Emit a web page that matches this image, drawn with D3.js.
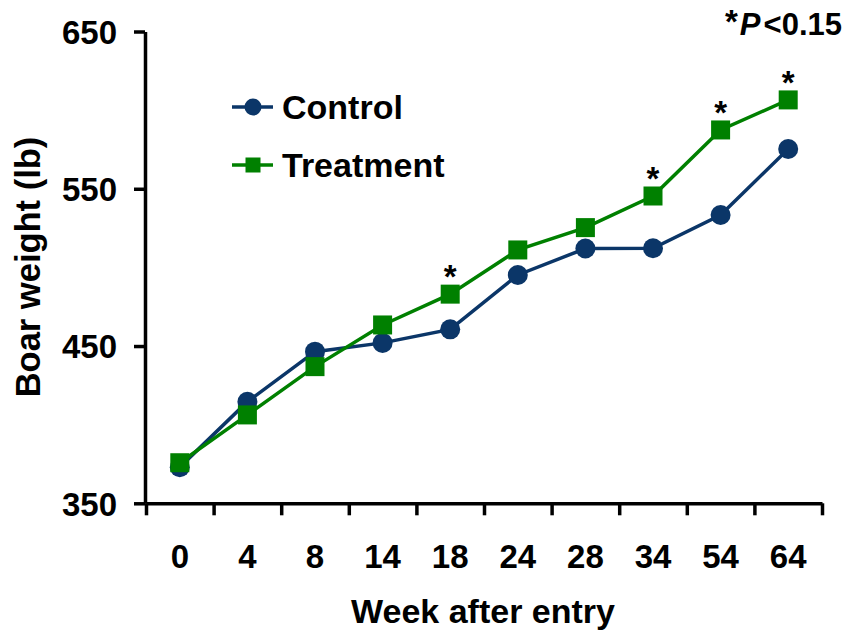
<!DOCTYPE html>
<html>
<head>
<meta charset="utf-8">
<script src="https://cdn.jsdelivr.net/npm/d3@7"></script>
<style>
  body { margin: 0; background: #fff; }
  text { font-family: "Liberation Sans", Arial, sans-serif; font-weight: bold; fill: #000; }
</style>
</head>
<body>
<svg id="chart" width="849" height="637"></svg>
<script>
// data
var weeks = ["0", "4", "8", "14", "18", "24", "28", "34", "54", "64"];
var control = [373, 414.6, 446.4, 452, 460.6, 495.2, 512, 512.2, 533.3, 575.3];
var treatment = [375.8, 406.2, 436.9, 463.4, 483, 511.1, 525.3, 545.4, 587.4, 606.5];
var starWeeks = ["18", "34", "54", "64"];
var yTicks = [350, 450, 550, 650];

var svg = d3.select("svg#chart");

// scales
var x = d3.scaleBand().domain(weeks).range([146, 822]).padding(0),
    xEdge = d3.scaleLinear().domain([0, weeks.length]).range([146, 822]),
    y = d3.scaleLinear().domain([350, 650]).range([503.3, 31.5]);

var navy = "#0b3668", green = "#008000";

// x axis line + tick marks at the band edges
svg.append("g")
    .attr("transform", "translate(0,503.3)")
    .call(d3.axisBottom(xEdge).ticks(weeks.length).tickSize(12).tickSizeOuter(0).tickFormat(""))
    .call(function(g) {
      g.select(".domain").attr("stroke-width", 3.5);
      g.selectAll(".tick line").attr("stroke-width", 3.5);
    });

// x tick labels (centred in the bands)
svg.append("g")
    .attr("transform", "translate(0,503.3)")
    .call(d3.axisBottom(x).tickSize(0).tickPadding(41))
    .call(function(g) {
      g.select(".domain").remove();
      g.selectAll("text").style("font-size", "33px").attr("font-family", null);
    });

// y axis
svg.append("g")
    .attr("transform", "translate(145,0)")
    .call(d3.axisLeft(y).tickValues(yTicks).tickSize(11).tickSizeOuter(0).tickPadding(17))
    .call(function(g) {
      g.select(".domain").attr("stroke-width", 3.5);
      g.selectAll(".tick line").attr("stroke-width", 3.5);
      g.selectAll("text").style("font-size", "33px").attr("font-family", null).attr("dy", "0.36em");
    });

// axis titles
svg.append("text")
    .attr("x", 483).attr("y", 623)
    .style("text-anchor", "middle").style("font-size", "34px")
    .text("Week after entry");

svg.append("text")
    .attr("transform", "translate(40,267) rotate(-90)")
    .style("text-anchor", "middle").style("font-size", "34.5px")
    .text("Boar weight (lb)");

// lines
var line = d3.line()
    .x(function(d, i) { return x(weeks[i]) + x.bandwidth() / 2; })
    .y(function(d) { return y(d); });

svg.append("path").datum(control)
    .attr("d", line).attr("fill", "none")
    .attr("stroke", navy).attr("stroke-width", 3.5);

svg.selectAll("circle.ctrl").data(control).enter().append("circle")
    .attr("class", "ctrl")
    .attr("cx", function(d, i) { return x(weeks[i]) + x.bandwidth() / 2; })
    .attr("cy", function(d) { return y(d); })
    .attr("r", 10)
    .attr("fill", navy);

svg.append("path").datum(treatment)
    .attr("d", line).attr("fill", "none")
    .attr("stroke", green).attr("stroke-width", 3.5);

svg.selectAll("rect.trt").data(treatment).enter().append("rect")
    .attr("class", "trt")
    .attr("x", function(d, i) { return x(weeks[i]) + x.bandwidth() / 2 - 9.5; })
    .attr("y", function(d) { return y(d) - 9.5; })
    .attr("width", 19).attr("height", 19)
    .attr("fill", green);

// significance asterisks
svg.selectAll("text.star").data(starWeeks).enter().append("text")
    .attr("class", "star")
    .attr("x", function(w) { return x(w) + x.bandwidth() / 2; })
    .attr("y", function(w) { return y(treatment[weeks.indexOf(w)]) - 6; })
    .style("text-anchor", "middle").style("font-size", "33px")
    .text("*");

// note
var note = svg.append("text")
    .attr("x", 842).attr("y", 35)
    .style("text-anchor", "end").style("font-size", "31px");
note.append("tspan").attr("dy", -2).style("font-size", "33px").text("*");
note.append("tspan").attr("dx", 2).attr("dy", 2).style("font-style", "italic").text("P");
note.append("tspan").attr("dx", 3).text("<0.15");

// legend
var legend = [
  {name: "Control", color: navy, shape: "circle", ly: 107},
  {name: "Treatment", color: green, shape: "square", ly: 165}
];

legend.forEach(function(l) {
  var g = svg.append("g");
  g.append("line")
      .attr("x1", 232).attr("x2", 273).attr("y1", l.ly).attr("y2", l.ly)
      .attr("stroke", l.color).attr("stroke-width", 3.5);
  if (l.shape === "circle") {
    g.append("circle").attr("cx", 253).attr("cy", l.ly).attr("r", 8.5).attr("fill", l.color);
  } else {
    g.append("rect").attr("x", 245.5).attr("y", l.ly - 7.5)
        .attr("width", 15).attr("height", 15).attr("fill", l.color);
  }
  g.append("text")
      .attr("x", 282).attr("y", l.ly + 12)
      .style("font-size", "34px")
      .text(l.name);
});
</script>
</body>
</html>
